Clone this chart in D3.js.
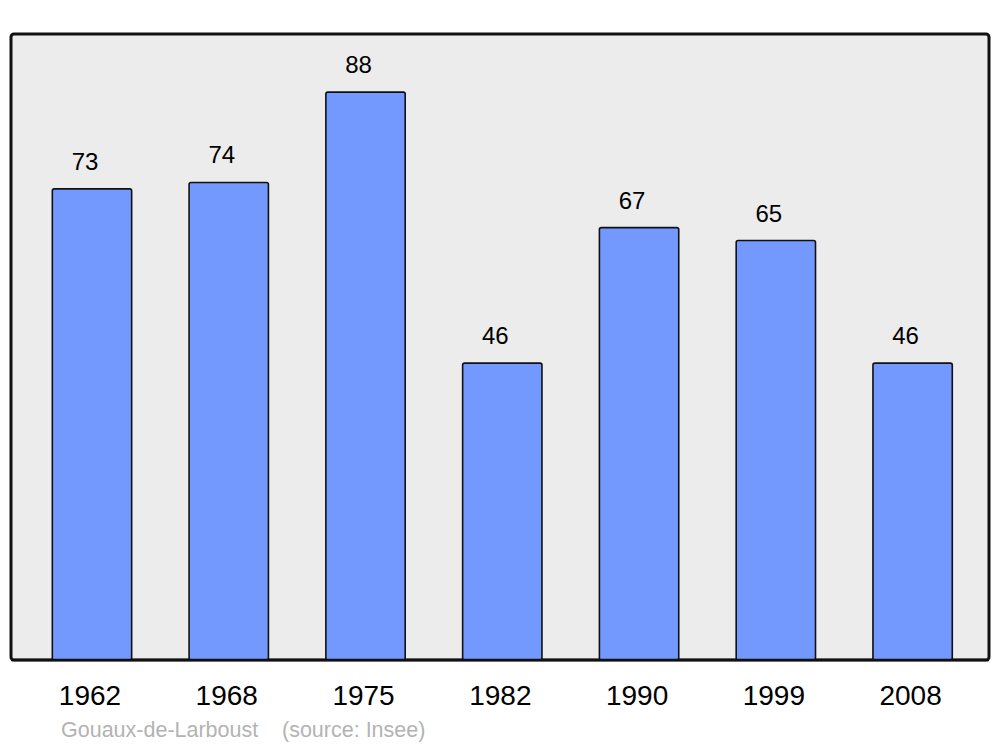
<!DOCTYPE html>
<meta charset="utf-8">
<style>
body { margin: 0; background: #fff; }
text { font-family: "Liberation Sans", Arial, sans-serif; }
</style>
<svg width="1000" height="747"></svg>
<script src="https://d3js.org/d3.v7.min.js"></script>
<script>
// population by census year
var years = ["1962", "1968", "1975", "1982", "1990", "1999", "2008"];
var population = [73, 74, 88, 46, 67, 65, 46];
var commune = "Gouaux-de-Larboust";
var source = "(source: Insee)";

var svg = d3.select("svg");

var x = d3.scaleBand()
    .domain(years)
    .range([23.6, 981])
    .paddingInner(0.42)
    .paddingOuter(0.21);

var y = d3.scaleLinear()
    .domain([0, 97])
    .range([660, 34]);

// background panel
svg.append("rect")
    .attr("x", 11)
    .attr("y", 34)
    .attr("width", 978)
    .attr("height", 626)
    .attr("rx", 3)
    .attr("fill", "#ececec")
    .attr("stroke", "#111")
    .attr("stroke-width", 3);

var bars = svg.append("g");

bars.selectAll("rect")
  .data(years)
  .enter().append("rect")
    .attr("x", function(d) { return x(d); })
    .attr("y", function(d, i) { return y(population[i]); })
    .attr("width", x.bandwidth())
    .attr("height", function(d, i) { return y(0) - y(population[i]); })
    .attr("rx", 2)
    .attr("fill", "#7399ff")
    .attr("stroke", "#111")
    .attr("stroke-width", 1.6);

// value labels
bars.selectAll("text")
  .data(years)
  .enter().append("text")
    .attr("x", function(d) { return x(d) + x.bandwidth() / 2 - 7; })
    .attr("y", function(d, i) { return y(population[i]) - 19; })
    .attr("text-anchor", "middle")
    .attr("font-size", 24)
    .attr("fill", "#000")
    .text(function(d, i) { return population[i]; });

// redraw the bottom edge of the panel over the bars
svg.append("line")
    .attr("x1", 11).attr("x2", 989)
    .attr("y1", 660).attr("y2", 660)
    .attr("stroke", "#111")
    .attr("stroke-width", 2.5);

// year axis
var axis = svg.append("g")
    .attr("transform", "translate(0,660)")
    .call(d3.axisBottom(x).tickSize(0).tickPadding(0));
axis.select(".domain").remove();
axis.selectAll("text")
    .attr("dy", null)
    .attr("y", 45)
    .attr("dx", -2)
    .attr("font-size", 28)
    .attr("font-family", "Liberation Sans, Arial, sans-serif")
    .attr("fill", "#000");

// caption
svg.append("text")
    .attr("x", 61)
    .attr("y", 737)
    .attr("font-size", 21.5)
    .attr("fill", "#b3b3b3")
    .text(commune);

svg.append("text")
    .attr("x", 282)
    .attr("y", 737)
    .attr("font-size", 21.5)
    .attr("fill", "#b3b3b3")
    .text(source);
</script>
